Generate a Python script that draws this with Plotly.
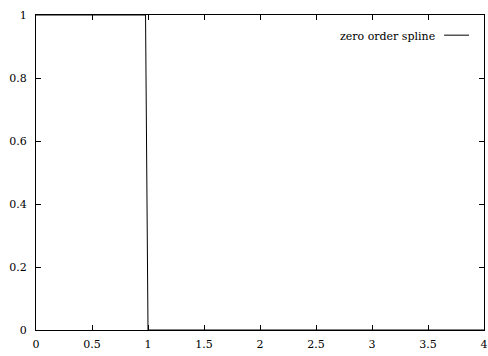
import plotly.graph_objects as go

x_vals = [0, 0.978, 1.0, 4.0]
y_vals = [1, 1, 0, 0]
x_ticks = [0, 0.5, 1, 1.5, 2, 2.5, 3, 3.5, 4]
x_tick_text = ["0", "0.5", "1", "1.5", "2", "2.5", "3", "3.5", "4"]
y_ticks = [0, 0.2, 0.4, 0.6, 0.8, 1]
y_tick_text = ["0", "0.2", "0.4", "0.6", "0.8", "1"]
legend_label = "zero order spline"

fig = go.Figure()
fig.add_trace(go.Scatter(x=x_vals, y=y_vals, mode="lines",
                         line=dict(color="black", width=1), name=legend_label,
                         showlegend=False, cliponaxis=False))

font = dict(family="'DejaVu Serif', serif", size=11, color="black")
axis_common = dict(showgrid=False, zeroline=False, showline=True, linecolor="black",
                   linewidth=1, mirror="ticks", ticks="inside", ticklen=5,
                   tickcolor="black", tickfont=font, automargin=False)
fig.update_layout(
    width=488, height=356,
    margin=dict(l=36, r=4, t=15, b=26, autoexpand=False),
    paper_bgcolor="white", plot_bgcolor="white",
    font=font,
    xaxis=dict(range=[0, 4], tickvals=x_ticks, ticktext=x_tick_text, ticklabelstandoff=4, **axis_common),
    yaxis=dict(range=[0, 1], tickvals=y_ticks, ticktext=y_tick_text, ticklabelstandoff=6, **axis_common),
    annotations=[dict(x=0.895, y=0.933, xref="paper", yref="paper", text=legend_label,
                      showarrow=False, xanchor="right", yanchor="middle", font=font)],
    shapes=[dict(type="line", xref="paper", yref="paper", x0=0.911, x1=0.9665,
                 y0=0.936, y1=0.936, line=dict(color="black", width=1))],
)
fig.write_html("out.html", config={"displayModeBar": False},
               post_script="document.body.style.margin='0';document.body.style.overflow='hidden';")
